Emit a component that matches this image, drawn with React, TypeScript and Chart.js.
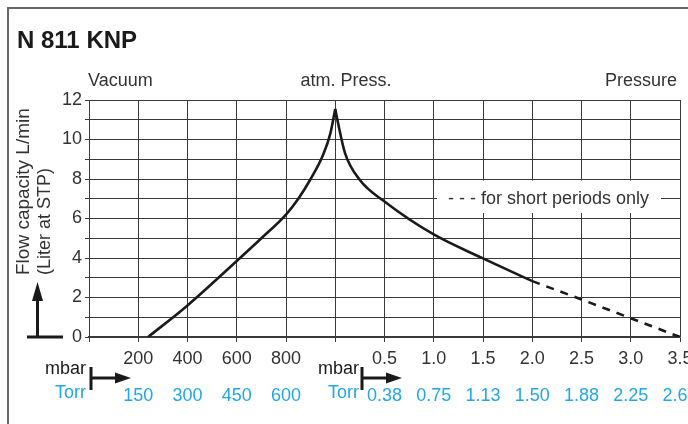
import React, { useEffect, useRef } from "react";
import { Chart, registerables } from "chart.js";

Chart.register(...registerables);

// ---- data ----
const vacuumMbar = [240, 400, 600, 700, 800, 850, 900, 950, 980, 1000];
const vacuumFlow = [0, 1.6, 3.85, 5.0, 6.2, 7.0, 8.0, 9.2, 10.3, 11.55];

const pressureBar = [0, 0.03, 0.1, 0.25, 0.5, 1.0, 1.5, 2.0];
const pressureFlow = [11.55, 10.8, 9.3, 7.95, 6.86, 5.19, 3.98, 2.83];

const shortBar = [2.0, 2.5, 3.0, 3.5];
const shortFlow = [2.83, 1.9, 0.95, 0];

const xMbarLabels = ["", "200", "400", "600", "800", "", "0.5", "1.0", "1.5", "2.0", "2.5", "3.0", "3.5"];
const xTorrLabels = ["", "150", "300", "450", "600", "", "0.38", "0.75", "1.13", "1.50", "1.88", "2.25", "2.63"];
const yTickValues = [0, 2, 4, 6, 8, 10, 12];

const TITLE = "N 811 KNP";
const Y_TITLE_1 = "Flow capacity L/min";
const Y_TITLE_2 = "(Liter at STP)";
const LEGEND_TEXT = "- - - for short periods only";

// axis mapping: vacuum side 200 mbar per grid, pressure side 0.5 bar per grid
const mbarPos = (m: number) => m / 200;
const barPos = (b: number) => 5 + b / 0.5;

const FONT = "'Liberation Sans', Arial, sans-serif";
const TEXT = "#333";
const BLUE = "#22a7e3";
const GRID = "#3a3a3a";

const extrasPlugin = {
  id: "extras",
  beforeDatasetsDraw(chart: any) {
    const { ctx, scales } = chart;
    const y = scales.y;
    ctx.save();
    ctx.fillStyle = "#fff";
    ctx.fillRect(437, y.getPixelForValue(8) + 1.5, 224, y.getPixelForValue(6) - y.getPixelForValue(8) - 7);
    ctx.restore();
  },
  afterDraw(chart: any) {
    const { ctx, scales } = chart;
    const y = scales.y;
    ctx.save();
    // border
    ctx.strokeStyle = "#666";
    ctx.lineWidth = 2;
    ctx.strokeRect(8, 8, 1200, 1200);

    // title
    ctx.fillStyle = "#1a1a1a";
    ctx.font = `bold 24px ${FONT}`;
    ctx.textBaseline = "middle";
    ctx.textAlign = "left";
    ctx.fillText(TITLE, 17, 41);

    // headers
    ctx.fillStyle = TEXT;
    ctx.font = `18px ${FONT}`;
    ctx.textAlign = "left";
    ctx.fillText("Vacuum", 88, 81);
    ctx.textAlign = "center";
    ctx.fillText("atm. Press.", 346, 81);
    ctx.textAlign = "right";
    ctx.fillText("Pressure", 677, 81);

    // y titles
    ctx.save();
    ctx.translate(24, 275);
    ctx.rotate(-Math.PI / 2);
    ctx.textAlign = "left";
    ctx.textBaseline = "middle";
    ctx.font = `19px ${FONT}`;
    ctx.fillText(Y_TITLE_1, 0, 0);
    ctx.restore();
    ctx.save();
    ctx.translate(45, 275);
    ctx.rotate(-Math.PI / 2);
    ctx.textAlign = "left";
    ctx.textBaseline = "middle";
    ctx.font = `18px ${FONT}`;
    ctx.fillText(Y_TITLE_2, 0, 0);
    ctx.restore();

    // vertical arrow
    const y0 = y.getPixelForValue(0);
    ctx.strokeStyle = "#1a1a1a";
    ctx.fillStyle = "#1a1a1a";
    ctx.lineWidth = 3;
    ctx.beginPath();
    ctx.moveTo(27, y0);
    ctx.lineTo(63, y0);
    ctx.moveTo(37.5, y0);
    ctx.lineTo(37.5, 298);
    ctx.stroke();
    ctx.beginPath();
    ctx.moveTo(37.5, 282);
    ctx.lineTo(32, 301);
    ctx.lineTo(43, 301);
    ctx.closePath();
    ctx.fill();

    // unit labels with arrows
    const units = [
      { right: 86, bar: 91, tip: 131 },
      { right: 359, bar: 362, tip: 402 },
    ];
    units.forEach((u) => {
      ctx.font = `18px ${FONT}`;
      ctx.textAlign = "right";
      ctx.textBaseline = "middle";
      ctx.fillStyle = "#1a1a1a";
      ctx.fillText("mbar", u.right, 369);
      ctx.fillStyle = BLUE;
      ctx.fillText("Torr", u.right, 393);
      ctx.strokeStyle = "#1a1a1a";
      ctx.fillStyle = "#1a1a1a";
      ctx.lineWidth = 3;
      ctx.beginPath();
      ctx.moveTo(u.bar, 367);
      ctx.lineTo(u.bar, 390);
      ctx.moveTo(u.bar, 378);
      ctx.lineTo(u.tip - 14, 378);
      ctx.stroke();
      ctx.beginPath();
      ctx.moveTo(u.tip, 378);
      ctx.lineTo(u.tip - 16, 372.5);
      ctx.lineTo(u.tip - 16, 383.5);
      ctx.closePath();
      ctx.fill();
    });

    // legend text
    ctx.fillStyle = TEXT;
    ctx.font = `18px ${FONT}`;
    ctx.textAlign = "left";
    ctx.textBaseline = "middle";
    ctx.fillText(LEGEND_TEXT, 448, y.getPixelForValue(7));
    ctx.restore();
  },
};

export default function App() {
  const ref = useRef<HTMLCanvasElement | null>(null);
  useEffect(() => {
    if (!ref.current) return;
    const chart = new Chart(ref.current, {
      type: "line",
      data: {
        datasets: [
          {
            data: vacuumMbar.map((m, i) => ({ x: mbarPos(m), y: vacuumFlow[i] })),
            borderColor: "#1a1a1a",
            borderWidth: 2.6,
            pointRadius: 0,
            cubicInterpolationMode: "monotone",
            fill: false,
          },
          {
            data: pressureBar.map((b, i) => ({ x: barPos(b), y: pressureFlow[i] })),
            borderColor: "#1a1a1a",
            borderWidth: 2.6,
            pointRadius: 0,
            cubicInterpolationMode: "monotone",
            fill: false,
          },
          {
            data: shortBar.map((b, i) => ({ x: barPos(b), y: shortFlow[i] })),
            borderColor: "#1a1a1a",
            borderWidth: 2.6,
            borderDash: [8, 7],
            pointRadius: 0,
            tension: 0,
            fill: false,
          },
        ],
      },
      options: {
        animation: false,
        responsive: false,
        devicePixelRatio: 1,
        layout: { padding: { top: 100, left: 0, right: 40, bottom: 31 } },
        plugins: { legend: { display: false }, tooltip: { enabled: false }, title: { display: false } },
        scales: {
          x: {
            type: "linear",
            position: "bottom",
            weight: 1,
            min: 0,
            max: 12,
            afterFit: (s: any) => { s.height = 42; },
            grid: { color: GRID, lineWidth: 1, tickLength: 5, drawTicks: true },
            border: { color: GRID, width: 1.5 },
            ticks: {
              stepSize: 1,
              autoSkip: false,
              maxRotation: 0,
              padding: 6,
              color: TEXT,
              font: { family: FONT, size: 18 },
              callback: (v: any) => xMbarLabels[Math.round(Number(v))] ?? "",
            },
          },
          x2: {
            type: "linear",
            position: "bottom",
            weight: 2,
            min: 0,
            max: 12,
            afterFit: (s: any) => { s.height = 30; },
            grid: { display: false, drawTicks: false },
            border: { display: false },
            ticks: {
              stepSize: 1,
              autoSkip: false,
              maxRotation: 0,
              padding: 6,
              color: BLUE,
              font: { family: FONT, size: 18 },
              callback: (v: any) => xTorrLabels[Math.round(Number(v))] ?? "",
            },
          },
          y: {
            type: "linear",
            min: 0,
            max: 12,
            afterFit: (s: any) => { s.width = 89; },
            grid: { color: GRID, lineWidth: 1, tickLength: 4 },
            border: { color: GRID, width: 1 },
            ticks: {
              stepSize: 1,
              autoSkip: false,
              padding: 3,
              color: TEXT,
              font: { family: FONT, size: 18 },
              callback: (v: any) => (yTickValues.includes(Number(v)) ? String(v) : ""),
            },
          },
        },
      } as any,
      plugins: [extrasPlugin],
    });
    return () => chart.destroy();
  }, []);
  return (
    <div style={{ position: "fixed", left: 0, top: 0, width: 688, height: 424, overflow: "hidden", background: "#fff" }}>
      <canvas ref={ref} width={720} height={440} style={{ width: 720, height: 440, display: "block" }} />
    </div>
  );
}
